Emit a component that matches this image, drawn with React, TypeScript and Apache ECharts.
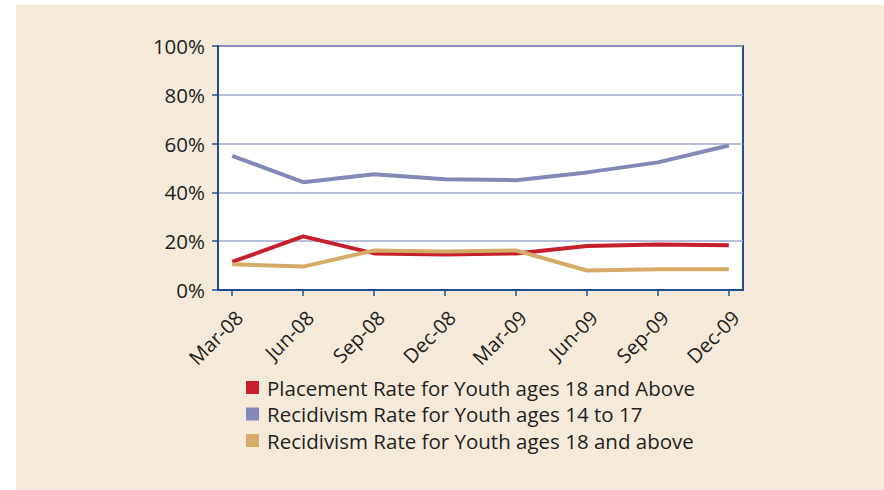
import React, { useEffect, useRef } from "react";
import * as echarts from "echarts";

// Quarterly rates, Mar-08 through Dec-09 (percent)
const categories = ["Mar-08", "Jun-08", "Sep-08", "Dec-08", "Mar-09", "Jun-09", "Sep-09", "Dec-09"];
const placement18Up = [11.5, 22, 15, 14.6, 15, 18, 18.6, 18.3];
const recidivism14to17 = [55, 44.2, 47.4, 45.4, 45, 48.2, 52.3, 59.2];
const recidivism18Up = [10.6, 9.6, 16.2, 15.8, 16.2, 8, 8.5, 8.5];
const yTicks = [0, 20, 40, 60, 80, 100];

const seriesNames = [
  "Placement Rate for Youth ages 18 and Above",
  "Recidivism Rate for Youth ages 14 to 17",
  "Recidivism Rate for Youth ages 18 and above",
];

const FONT = "'Open Sans', Lato, sans-serif";
const AXIS_BLUE = "#1f4f8c";
const TEXT = "#231f20";

const toPoints = (vals: number[]) => vals.map((v, i) => [i, v]);

export default function App() {
  const ref = useRef<HTMLDivElement>(null);

  useEffect(() => {
    if (!ref.current) return;
    const chart = echarts.init(ref.current, undefined, { renderer: "svg" });
    const idx = categories.map((_, i) => i);
    chart.setOption({
      animation: false,
      backgroundColor: "#ffffff",
      graphic: [
        {
          type: "rect",
          z: -10,
          silent: true,
          shape: { x: 16, y: 5, width: 868, height: 485 },
          style: { fill: "#f5eada" },
        },
      ],
      grid: {
        left: 218,
        top: 46,
        width: 525,
        height: 244,
        show: true,
        backgroundColor: "#ffffff",
        borderColor: AXIS_BLUE,
        borderWidth: 2,
      },
      xAxis: {
        type: "value",
        min: -0.2,
        max: 7.2,
        axisLine: { show: true, onZero: false, lineStyle: { color: AXIS_BLUE, width: 2 } },
        axisTick: { show: true, customValues: idx, length: 6, lineStyle: { color: AXIS_BLUE, width: 1.5 } },
        axisLabel: {
          customValues: idx,
          formatter: (v: number) => categories[Math.round(v)] ?? "",
          rotate: 45,
          fontSize: 20,
          fontFamily: FONT,
          color: TEXT,
          margin: 17,
          verticalAlign: "top",
        },
        splitLine: { show: false },
      },
      yAxis: {
        type: "value",
        min: yTicks[0],
        max: yTicks[yTicks.length - 1],
        interval: 20,
        axisLine: { show: true, onZero: false, lineStyle: { color: AXIS_BLUE, width: 2 } },
        axisTick: { show: true, length: 6, lineStyle: { color: AXIS_BLUE, width: 1.5 } },
        axisLabel: {
          formatter: "{value}%",
          fontSize: 20.5,
          fontFamily: FONT,
          color: TEXT,
          margin: 13,
        },
        splitLine: { show: true, lineStyle: { color: "#a2a9cb", width: 1.5 } },
      },
      legend: {
        orient: "vertical",
        left: 246,
        top: 377,
        padding: 0,
        icon: "rect",
        itemWidth: 13,
        itemHeight: 13,
        itemGap: 5.5,
        textStyle: {
          fontSize: 20.5,
          fontFamily: FONT,
          color: TEXT,
          lineHeight: 21,
          padding: [0, 0, 0, 3],
        },
        data: seriesNames,
      },
      series: [
        {
          name: seriesNames[0],
          type: "line",
          data: toPoints(placement18Up),
          showSymbol: false,
          color: "#c41f2b",
          lineStyle: { width: 4, color: "#c41f2b" },
        },
        {
          name: seriesNames[1],
          type: "line",
          data: toPoints(recidivism14to17),
          showSymbol: false,
          color: "#8289b6",
          lineStyle: { width: 4, color: "#8289b6" },
        },
        {
          name: seriesNames[2],
          type: "line",
          data: toPoints(recidivism18Up),
          showSymbol: false,
          color: "#d5ab68",
          lineStyle: { width: 4, color: "#d5ab68" },
        },
      ],
    });
    return () => chart.dispose();
  }, []);

  return (
    <div
      ref={ref}
      style={{ position: "fixed", left: 0, top: 0, width: 884, height: 490 }}
    />
  );
}
